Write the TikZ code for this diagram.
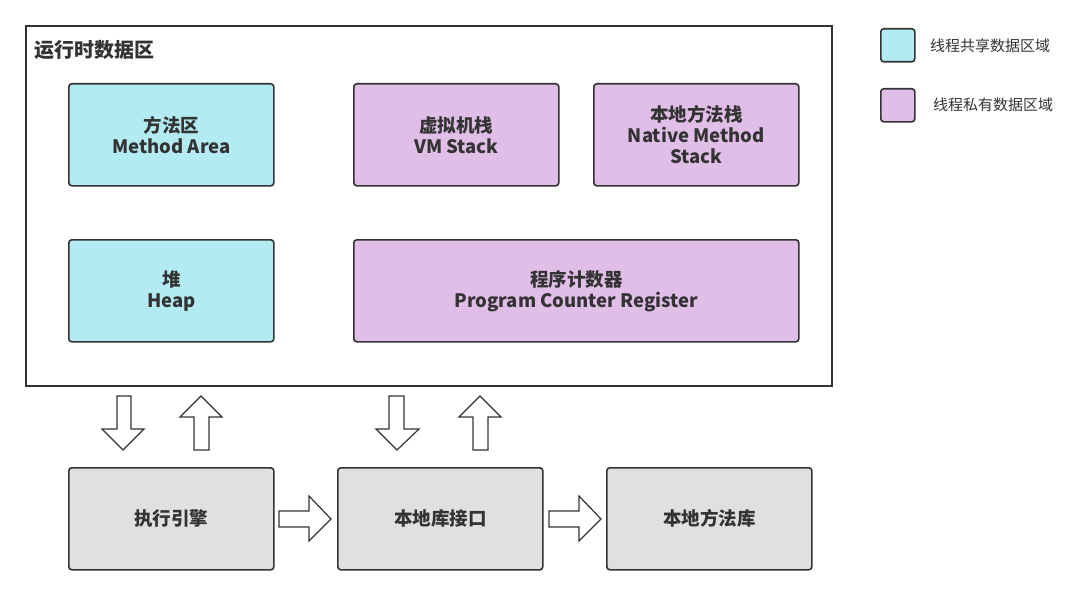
\documentclass[tikz,border=0pt]{standalone}
\usepackage{fontspec}
\setmainfont{Noto Sans CJK SC}
\usetikzlibrary{positioning}
\definecolor{shared}{HTML}{B2EBF2}
\definecolor{private}{HTML}{E1BEE7}
\definecolor{grayfill}{HTML}{E0E0E0}
\definecolor{ink}{HTML}{333333}
\tikzset{
  region/.style={draw=ink, line width=1.6pt, rounded corners=3pt, minimum width=205pt, minimum height=102pt, anchor=north west, inner sep=0pt, align=center, text=ink, font=\fontsize{18.5}{21}\selectfont\bfseries},
  sharedbox/.style={region, fill=shared},
  privatebox/.style={region, fill=private},
  graybox/.style={region, fill=grayfill},
  legbox/.style={draw=ink, line width=1.6pt, rounded corners=3pt, minimum width=34pt, minimum height=33pt, anchor=north west, inner sep=0pt},
  legtext/.style={anchor=west, text=ink, font=\fontsize{15}{17}\selectfont},
  bigarrow/.style={draw=ink, line width=1.2pt, fill=white, line join=miter},
}
\begin{document}
\begin{tikzpicture}[x=1pt,y=-1pt]
\useasboundingbox (0,0) rectangle (1077,594);
% outer frame
\node[draw=ink, line width=1.6pt, minimum width=806pt, minimum height=360pt, anchor=north west, inner sep=0pt] (frame) at (25,25) {};
\node[anchor=west, text=ink, font=\fontsize{20}{22}\selectfont\bfseries, inner sep=0pt] (title) at (34,50) {运行时数据区};
% regions
\node[sharedbox] (method) at (68,83) {方法区\\Method Area};
\node[privatebox] (vm) at (353,83) {虚拟机栈\\VM Stack};
\node[privatebox] (native) at (593,83) {本地方法栈\\Native Method\\Stack};
\node[sharedbox] (heap) at (68,239) {堆\\Heap};
\node[privatebox, minimum width=445pt] (pc) at (353,239) {程序计数器\\Program Counter Register};
% bottom
\node[graybox] (exec) at (68,467) {执行引擎};
\node[graybox] (jni) at (337,467) {本地库接口};
\node[graybox] (lib) at (606,467) {本地方法库};
% legend
\node[legbox, fill=shared] (leg1) at (880,28) {};
\node[legtext, inner sep=0pt] (leg1t) at (930,46) {线程共享数据区域};
\node[legbox, fill=private] (leg2) at (880,88) {};
\node[legtext, inner sep=0pt] (leg2t) at (933,105) {线程私有数据区域};
% down/up arrows
\draw[bigarrow] (117,396) -- (131,396) -- (131,429) -- (144,429) -- (123,450) -- (102,429) -- (117,429) -- cycle;
\draw[bigarrow] (194,450) -- (209,450) -- (209,417) -- (222,417) -- (201,396) -- (180,417) -- (194,417) -- cycle;
\draw[bigarrow] (389,396) -- (404,396) -- (404,429) -- (419,429) -- (397,450) -- (376,429) -- (389,429) -- cycle;
\draw[bigarrow] (473,450) -- (488,450) -- (488,417) -- (501,417) -- (480,396) -- (459,417) -- (473,417) -- cycle;
% right arrows
\draw[bigarrow] (279,511) -- (309,511) -- (309,496) -- (331,519) -- (309,541) -- (309,527) -- (279,527) -- cycle;
\draw[bigarrow] (549,511) -- (579,511) -- (579,496) -- (601,519) -- (579,541) -- (579,527) -- (549,527) -- cycle;
\end{tikzpicture}
\end{document}
